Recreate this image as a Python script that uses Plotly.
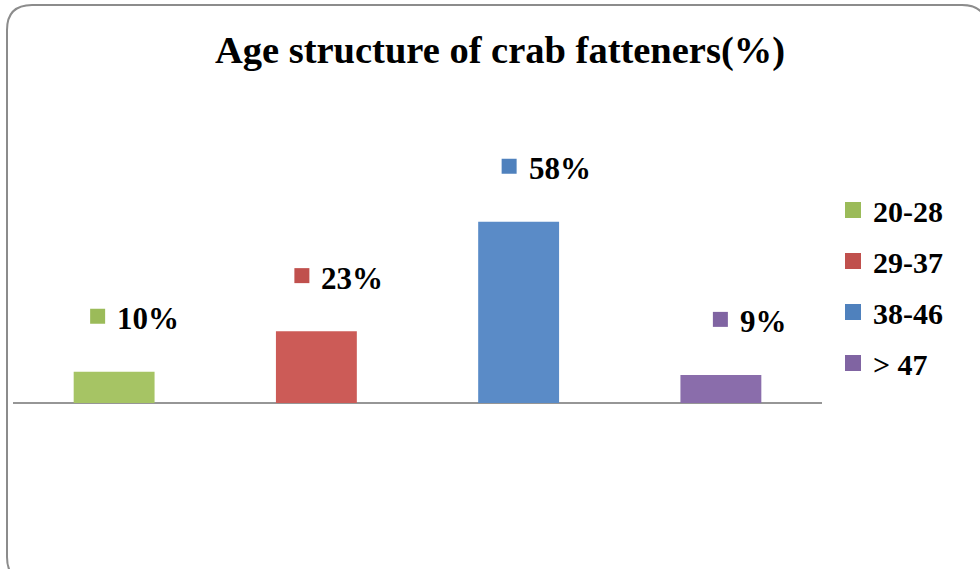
import plotly.graph_objects as go

# ── Data ─────────────────────────────────────────────────────────────────────
AGE_GROUPS = ["20-28", "29-37", "38-46", "> 47"]
SHARE_PCT = [10, 23, 58, 9]
LABELS = ["10%", "23%", "58%", "9%"]

# ── Style ────────────────────────────────────────────────────────────────────
BAR_COLORS = ["#A6C464", "#CC5B57", "#5A8BC7", "#8A6DAB"]
KEY_COLORS = ["#9BBB59", "#C0504D", "#4F81BD", "#8064A2"]
KEY_SHIFT = [-24, -22, -17, -8]      # labels were nudged by hand in the original
FONT = "Liberation Serif"
BORDER = "#8C8C8C"

W, H = 980, 569
L, R, T, B = 13, 158, 153, 41
PW, PH = W - L - R, H - T - B


def to_paper(px, py):
    return (px - L) / PW, (H - B - py) / PH


fig = go.Figure()

for i, (grp, val) in enumerate(zip(AGE_GROUPS, SHARE_PCT)):
    fig.add_trace(go.Bar(
        x=[i], y=[val], width=0.4, name=grp,
        marker=dict(color=BAR_COLORS[i], line_width=0),
        showlegend=False, hoverinfo="skip",
    ))
    # legend proxy so the key square can be a bit bigger
    fig.add_trace(go.Scatter(
        x=[None], y=[None], mode="markers", name=grp, legendgroup=grp,
        marker=dict(symbol="square", size=16, color=KEY_COLORS[i]),
    ))
    # data label: legend key + value
    fig.add_shape(
        type="rect", xref="x", yref="y",
        xsizemode="pixel", ysizemode="pixel", xanchor=i, yanchor=val,
        x0=KEY_SHIFT[i], x1=KEY_SHIFT[i] + 15, y0=48, y1=63,
        fillcolor=KEY_COLORS[i], line_width=0,
    )
    fig.add_annotation(
        x=i, y=val, text=LABELS[i], showarrow=False,
        xanchor="left", yanchor="middle",
        xshift=KEY_SHIFT[i] + 25, yshift=53,
        font=dict(family=FONT, size=31, color="black", weight="bold"),
    )

# rounded chart border
r = 25
x0, y0 = to_paper(7, 5)
x1, y1 = to_paper(987, 582)
rx, ry = r / PW, r / PH
path = (
    f"M {x0},{y0 - ry} Q {x0},{y0} {x0 + rx},{y0} "
    f"L {x1 - rx},{y0} Q {x1},{y0} {x1},{y0 - ry} "
    f"L {x1},{y1 + ry} Q {x1},{y1} {x1 - rx},{y1} "
    f"L {x0 + rx},{y1} Q {x0},{y1} {x0},{y1 + ry} Z"
)
fig.add_shape(type="path", xref="paper", yref="paper", path=path,
              line=dict(color=BORDER, width=2), layer="below")

fig.update_layout(
    width=W, height=H,
    margin=dict(l=L, r=R, t=T, b=B),
    paper_bgcolor="white", plot_bgcolor="white",
    barmode="overlay",
    title=dict(
        text="Age structure of crab fatteners(%)",
        x=500 / W, xanchor="center", xref="container",
        y=1 - 50 / H, yanchor="middle", yref="container",
        font=dict(family=FONT, size=38.5, color="black", weight="bold"),
    ),
    legend=dict(
        xref="container", yref="container",
        x=833 / W, xanchor="left", y=1 - 184 / H, yanchor="top",
        font=dict(family=FONT, size=30, color="black", weight="bold"),
        tracegroupgap=9, bgcolor="rgba(0,0,0,0)",
    ),
    xaxis=dict(range=[-0.5, 3.5], showticklabels=False, showgrid=False,
               zeroline=False, showline=False, ticks=""),
    yaxis=dict(range=[-40, 80], showticklabels=False, showgrid=False,
               zeroline=True, zerolinecolor="#969696", zerolinewidth=2,
               showline=False, ticks=""),
)

fig.write_html(
    "out.html",
    config={"displayModeBar": False},
    post_script="document.body.style.margin = '0';",
)
